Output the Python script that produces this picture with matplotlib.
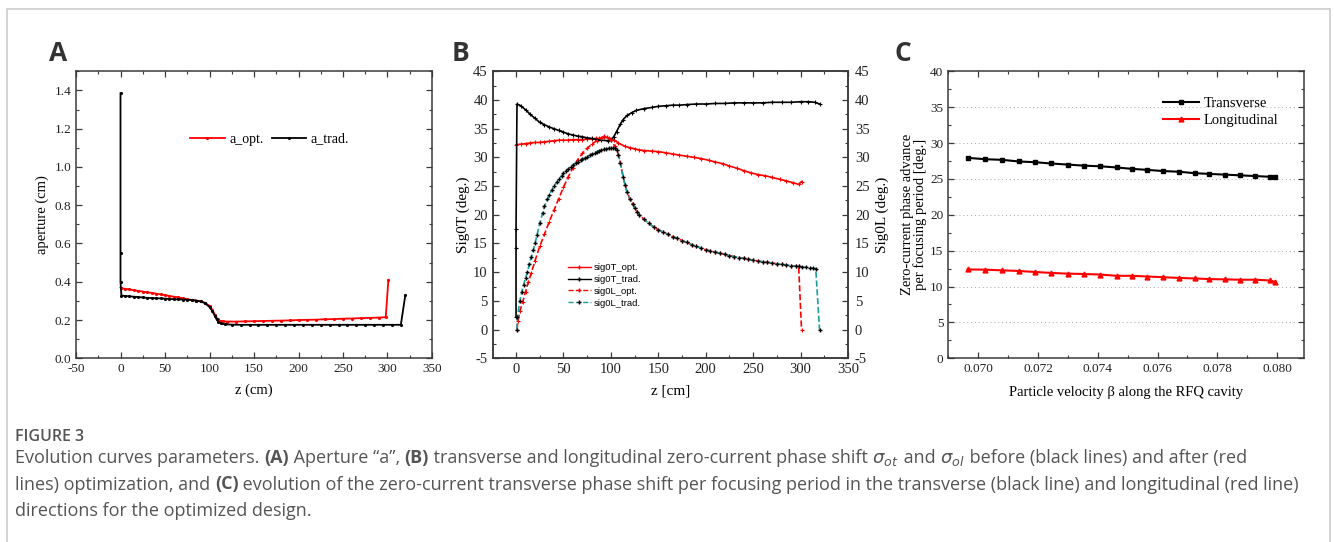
import matplotlib
matplotlib.use("Agg")
import matplotlib.pyplot as plt
from matplotlib.patches import Rectangle
from matplotlib.ticker import MultipleLocator, FormatStrFormatter
from matplotlib.lines import Line2D

SERIF = "Liberation Serif"
SANS = "Liberation Sans"
plt.rcParams["font.family"] = [SERIF, "DejaVu Serif"]
plt.rcParams["axes.unicode_minus"] = False
plt.rcParams["mathtext.fontset"] = "dejavusans"

# ---- panel A: aperture along the RFQ ----
z_a_trad = [0, 0, 0, 1, 5, 10, 15, 20, 25, 30, 35, 40, 45, 50, 55, 60, 65, 70, 75, 80, 85, 90,
            95, 100, 103, 106, 108, 110, 113, 117, 125, 135, 145, 155, 165, 175, 185, 195, 205,
            215, 225, 235, 245, 255, 265, 275, 285, 295, 305, 315, 320]
a_trad = [1.385, 0.55, 0.40, 0.328, 0.326, 0.324, 0.322, 0.320, 0.318, 0.316, 0.315, 0.314,
          0.313, 0.312, 0.310, 0.309, 0.308, 0.307, 0.306, 0.304, 0.302, 0.297, 0.288, 0.268,
          0.248, 0.222, 0.203, 0.190, 0.182, 0.178, 0.176, 0.175, 0.175, 0.175, 0.175, 0.175,
          0.175, 0.175, 0.175, 0.175, 0.175, 0.175, 0.175, 0.175, 0.175, 0.175, 0.175, 0.175,
          0.175, 0.175, 0.330]
z_a_opt = [0, 1, 5, 10, 15, 20, 25, 30, 35, 40, 45, 50, 55, 60, 65, 70, 75, 80, 85, 90, 95,
           100, 103, 106, 109, 112, 115, 120, 130, 140, 150, 160, 170, 180, 190, 200, 210, 220,
           230, 240, 250, 260, 270, 280, 290, 298, 301]
a_opt = [0.370, 0.366, 0.363, 0.360, 0.356, 0.352, 0.349, 0.345, 0.342, 0.338, 0.334, 0.330,
         0.326, 0.322, 0.318, 0.313, 0.309, 0.305, 0.302, 0.298, 0.290, 0.274, 0.255, 0.228,
         0.205, 0.195, 0.193, 0.192, 0.192, 0.193, 0.194, 0.195, 0.196, 0.197, 0.198, 0.200,
         0.201, 0.202, 0.204, 0.205, 0.207, 0.208, 0.210, 0.211, 0.213, 0.215, 0.410]

# ---- panel B: zero-current phase advance ----
z_t_trad = [0, 0, 0, 1, 5, 10, 15, 20, 25, 30, 35, 40, 45, 50, 55, 60, 65, 70, 75, 80, 85, 90,
            97, 100, 103, 106, 110, 113, 117, 122, 127, 135, 143, 150, 158, 165, 172, 180, 190,
            200, 210, 220, 230, 240, 250, 260, 270, 280, 290, 300, 308, 315, 320]
sig0T_trad = [2.2, 14.3, 17.5, 39.3, 39.0, 38.3, 37.5, 36.8, 36.1, 35.7, 35.3, 35.0, 34.7,
              34.4, 34.1, 33.9, 33.7, 33.6, 33.4, 33.3, 33.1, 33.0, 32.9, 33.1, 33.6, 34.5,
              35.8, 36.6, 37.3, 37.8, 38.2, 38.5, 38.7, 38.9, 39.0, 39.1, 39.1, 39.2, 39.3,
              39.3, 39.4, 39.4, 39.5, 39.5, 39.5, 39.5, 39.6, 39.6, 39.6, 39.7, 39.7, 39.6, 39.3]
z_t_opt = [0, 5, 10, 15, 20, 25, 30, 35, 40, 45, 50, 55, 60, 65, 70, 75, 80, 84, 88, 93, 98,
           103, 108, 115, 120, 125, 130, 135, 143, 150, 158, 165, 172, 180, 188, 195, 203, 210,
           218, 225, 233, 240, 248, 255, 263, 270, 278, 285, 292, 298, 301]
sig0T_opt = [32.2, 32.3, 32.4, 32.5, 32.6, 32.6, 32.7, 32.8, 32.9, 33.0, 33.0, 33.0, 33.1,
             33.1, 33.1, 33.2, 33.2, 33.3, 33.3, 33.5, 33.4, 33.1, 32.5, 31.9, 31.7, 31.5,
             31.3, 31.2, 31.1, 31.0, 30.8, 30.6, 30.4, 30.2, 30.0, 29.8, 29.5, 29.2, 28.9,
             28.5, 28.1, 27.7, 27.3, 27.0, 26.8, 26.5, 26.2, 25.9, 25.6, 25.3, 25.8]

# longitudinal: rising parts differ, the falling part after ~108 cm is shared
z_l_opt_rise = [1, 2, 4, 7, 10, 13, 16, 20, 25, 30, 35, 40, 45, 50, 55, 60, 65, 70, 75, 80,
                85, 90, 93, 96, 100, 104, 106]
l_opt_rise = [0, 1.5, 3.2, 4.8, 6.6, 8.3, 9.8, 12.0, 14.5, 16.6, 18.8, 20.8, 22.8, 24.8,
              26.6, 28.2, 29.6, 30.7, 31.6, 32.3, 32.9, 33.4, 33.7, 33.5, 33.0, 32.0, 31.3]
z_l_trad_rise = [1, 1.5, 4, 6, 8, 10, 12, 14, 16, 18, 20, 22, 25, 28, 30, 33, 35, 38, 40, 43,
                 45, 48, 50, 53, 55, 58, 60, 63, 65, 68, 70, 73, 75, 78, 80, 83, 85, 88, 90, 93,
                 95, 98, 100, 102, 104, 106]
l_trad_rise = [0, 2.2, 5.0, 6.5, 7.8, 9.0, 10.0, 11.4, 12.6, 13.8, 15.0, 16.4, 18.5, 20.3,
               21.5, 22.7, 23.5, 24.4, 25.0, 25.7, 26.2, 26.8, 27.2, 27.7, 28.0, 28.4, 28.7,
               29.0, 29.2, 29.5, 29.7, 29.9, 30.1, 30.4, 30.6, 30.8, 31.0, 31.2, 31.3, 31.4,
               31.5, 31.6, 31.6, 31.6, 31.6, 31.3]
z_l_fall = [108, 110, 113, 115, 117, 120, 123, 125, 128, 130, 135, 140, 145, 150, 155, 160,
            165, 170, 175, 180, 185, 190, 195, 200, 205, 210, 215, 220, 225, 230, 235, 240,
            245, 250, 255, 260, 265, 270, 275, 280, 285, 290, 295, 298]
l_fall = [30.5, 29.0, 26.6, 25.2, 24.0, 22.8, 21.9, 21.2, 20.5, 20.0, 19.2, 18.5, 17.9, 17.4,
          17.0, 16.6, 16.2, 15.9, 15.5, 15.2, 14.8, 14.5, 14.2, 13.9, 13.7, 13.5, 13.3, 13.1,
          12.9, 12.7, 12.55, 12.4, 12.25, 12.1, 11.95, 11.8, 11.7, 11.6, 11.45, 11.35, 11.25,
          11.15, 11.05, 11.0]
z_l_opt_end = [301]
l_opt_end = [0]
z_l_trad_end = [302, 306, 310, 313, 316, 320]
l_trad_end = [10.9, 10.85, 10.75, 10.7, 10.6, 0]

# ---- panel C: phase advance per focusing period vs beta ----
beta = [0.06965, 0.07022, 0.07080, 0.07136, 0.07190, 0.07244, 0.07299, 0.07354, 0.07408,
        0.07463, 0.07515, 0.07566, 0.07618, 0.07673, 0.07724, 0.07773, 0.07825, 0.07876,
        0.07927, 0.07975, 0.07992]
transverse = [27.94, 27.75, 27.66, 27.43, 27.33, 27.15, 27.0, 26.85, 26.76, 26.6, 26.4,
              26.26, 26.1, 26.0, 25.8, 25.7, 25.6, 25.5, 25.4, 25.3, 25.2]
longitudinal = [12.39, 12.35, 12.26, 12.17, 12.03, 11.9, 11.8, 11.75, 11.67, 11.5, 11.5,
                11.4, 11.3, 11.2, 11.13, 11.04, 11.0, 10.95, 10.95, 10.85, 10.66]

W, H = 1334, 542
fig = plt.figure(figsize=(W / 100, H / 100), dpi=100)


def box(x0, x1, y0=71.3, y1=358.3):
    return [x0 / W, 1 - y1 / H, (x1 - x0) / W, (y1 - y0) / H]


def style(ax, right=True):
    for s in ax.spines.values():
        s.set_color("#3a3a3a")
        s.set_linewidth(1.1)
    ax.tick_params(which="both", direction="in", top=True, right=right, colors="#3a3a3a",
                   labelcolor="#222222")
    ax.tick_params(which="major", length=4, width=0.9)
    ax.tick_params(which="minor", length=2.2, width=0.8)


# ---- A ----
axA = fig.add_axes(box(76, 432))
axA.plot(z_a_opt, a_opt, color="red", lw=1.3, marker=".", ms=2.5, label="a_opt.")
axA.plot(z_a_trad, a_trad, color="black", lw=1.3, marker=".", ms=2.5, label="a_trad.")
axA.set_xlim(-50, 350)
axA.set_ylim(0, 1.5)
axA.xaxis.set_major_locator(MultipleLocator(50))
axA.xaxis.set_minor_locator(MultipleLocator(25))
axA.yaxis.set_major_locator(MultipleLocator(0.2))
axA.yaxis.set_minor_locator(MultipleLocator(0.1))
axA.yaxis.set_major_formatter(FormatStrFormatter("%.1f"))
axA.set_ylim(0, 1.5)
axA.tick_params(labelsize=9.5)
axA.set_xlabel("z (cm)", fontsize=10.5, labelpad=6)
axA.set_ylabel("aperture (cm)", fontsize=10.5, labelpad=4)
style(axA)
axA.legend(loc="upper left", bbox_to_anchor=(0.305, 0.806), ncol=2, frameon=False,
           prop={"family": SERIF, "size": 10}, handlelength=2.5, columnspacing=0.6,
           handletextpad=0.3, borderaxespad=0)

# ---- B ----
axB = fig.add_axes(box(492.7, 848))
axB.plot(z_t_opt, sig0T_opt, color="red", lw=1.2, marker="+", ms=3, mew=0.8)
axB.plot(z_t_trad, sig0T_trad, color="black", lw=1.2, marker="+", ms=3, mew=0.8)
axB.set_xlim(-24.6, 350)
axB.set_ylim(-5, 45)
axB.xaxis.set_major_locator(MultipleLocator(50))
axB.xaxis.set_minor_locator(MultipleLocator(25))
axB.yaxis.set_major_locator(MultipleLocator(5))
axB.yaxis.set_minor_locator(MultipleLocator(2.5))
axB.tick_params(labelsize=10.5)
axB.set_xlabel("z [cm]", fontsize=11, labelpad=6)
axB.set_ylabel("Sig0T (deg.)", fontsize=11, labelpad=2)
style(axB, right=False)

axB2 = axB.twinx()
axB2.plot(z_l_opt_rise + z_l_fall + z_l_opt_end, l_opt_rise + l_fall + l_opt_end,
          color="red", lw=1.2, ls="--", marker="+", ms=3, mew=0.8)
axB2.plot(z_l_trad_rise + z_l_fall + z_l_trad_end, l_trad_rise + l_fall + l_trad_end,
          color="#1a9e9e", lw=1.2, ls="--", marker="+", ms=3.5, mew=1.0, mec="black")
axB2.set_ylim(-5, 45)
axB2.yaxis.set_major_locator(MultipleLocator(5))
axB2.yaxis.set_minor_locator(MultipleLocator(2.5))
style(axB2)
axB2.tick_params(which="both", top=False)
axB2.tick_params(labelsize=10.5, pad=5)
axB2.set_ylabel("Sig0L (deg.)", fontsize=11, labelpad=4)

handles = [
    Line2D([], [], color="red", lw=1, marker="+", ms=3),
    Line2D([], [], color="black", lw=1, marker="+", ms=3),
    Line2D([], [], color="red", lw=1, ls="--", marker="+", ms=3),
    Line2D([], [], color="#1a9e9e", lw=1, ls="--", marker="+", ms=3, mec="black"),
]
axB2.legend(handles, ["sig0T_opt.", "sig0T_trad.", "sig0L_opt.", "sig0L_trad."],
            loc="upper left", bbox_to_anchor=(0.2, 0.345), frameon=False,
            prop={"family": SANS, "size": 6.8}, handlelength=2.5, handletextpad=0.3,
            labelspacing=0.3, borderaxespad=0)

# ---- C ----
axC = fig.add_axes(box(948.3, 1304))
for yv in range(5, 40, 5):
    axC.axhline(yv, xmin=0.019, xmax=0.975, color="#a8a8a8", lw=0.7, ls=(0, (1, 3)),
                zorder=0)
axC.plot(beta, transverse, color="black", lw=1.5, marker="s", ms=3.5, label="Transverse")
axC.plot(beta, longitudinal, color="red", lw=1.5, marker="^", ms=3.5, label="Longitudinal")
axC.set_xlim(0.069, 0.0809)
axC.set_ylim(0, 40)
axC.xaxis.set_major_locator(MultipleLocator(0.002))
axC.xaxis.set_minor_locator(MultipleLocator(0.001))
axC.yaxis.set_major_locator(MultipleLocator(5))
axC.yaxis.set_minor_locator(MultipleLocator(2.5))
axC.xaxis.set_major_formatter(FormatStrFormatter("%.3f"))
axC.tick_params(labelsize=9.5)
axC.set_xlabel("Particle velocity \u03b2 along the RFQ cavity", fontsize=10.5, labelpad=8)
axC.set_ylabel("Zero-current phase advance\nper focusing period [deg.]", fontsize=10.5,
               labelpad=2, linespacing=1.0)
style(axC)
axC.legend(loc="upper right", bbox_to_anchor=(0.945, 0.93), frameon=False,
           prop={"family": SERIF, "size": 10.5}, handlelength=2.5, handletextpad=0.3,
           labelspacing=0.25, borderaxespad=0)

# panel letters
for lx, letter in [(49, "A"), (452, "B"), (895, "C")]:
    fig.text(lx / W, 1 - 61 / H, letter, fontsize=19, fontweight="bold", color="#333333",
             fontfamily="Open Sans", va="baseline")

# frame around the figure block
fig.patches.append(Rectangle((7 / W, -0.05), (1330 - 7) / W, 1.05 - 9 / H,
                             transform=fig.transFigure, fill=False, ec="#cccccc", lw=1.2))

# ---- caption ----
CAP = "#555555"
CAP_FONT = "Open Sans"
fig.text(15 / W, 1 - 441 / H, "FIGURE 3", fontsize=11.5, color=CAP, fontfamily=CAP_FONT,
         fontweight="semibold", va="baseline")

caption_lines = [
    [("Evolution curves parameters. ", "normal"), ("(A)", "bold"),
     (" Aperture \u201ca\u201d, ", "normal"), ("(B)", "bold"),
     (" transverse and longitudinal zero-current phase shift ", "normal"),
     (r"$\sigma_{ot}$", "normal"), (" and ", "normal"), (r"$\sigma_{ol}$", "normal"),
     (" before (black lines) and after (red", "normal")],
    [("lines) optimization, and ", "normal"), ("(C)", "bold"),
     (" evolution of the zero-current transverse phase shift per focusing period in the "
      "transverse (black line) and longitudinal (red line)", "normal")],
    [("directions for the optimized design.", "normal")],
]
renderer = fig.canvas.get_renderer()


def draw_line(runs, x, y, size):
    for txt, wt in runs:
        t = fig.text(x / W, 1 - y / H, txt, fontsize=size, color=CAP, fontfamily=CAP_FONT,
                     fontweight=wt, va="baseline")
        x += t.get_window_extent(renderer).width
    return t, x


# size the caption so the longest line spans the text block (15 .. 1304 px)
probe, right = draw_line(caption_lines[1], 15.0, -100, 10)
cap_size = 10 * (1304 - 15) / (right - 15)
for t in list(fig.texts):
    if t.get_position()[1] > 1:
        t.remove()

for i, runs in enumerate(caption_lines):
    draw_line(runs, 15.0, 463 + i * 26.5, cap_size)

fig.savefig("out.png", dpi=100)
